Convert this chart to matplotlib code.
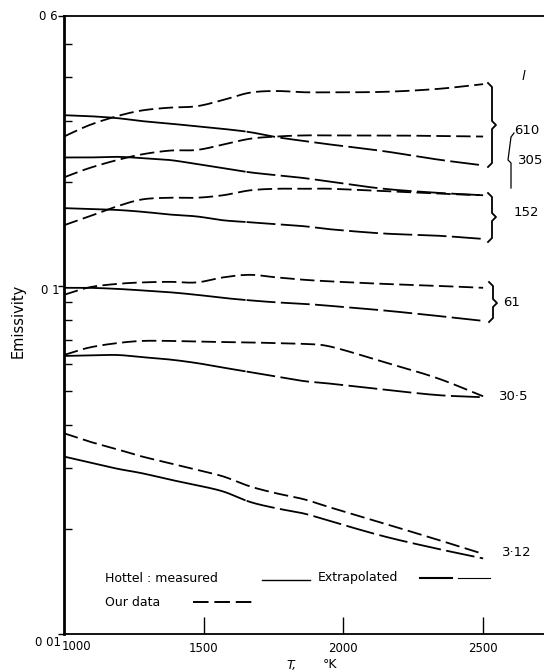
import numpy as np
import matplotlib
matplotlib.use('Agg')
import matplotlib.pyplot as plt
from matplotlib.lines import Line2D

W, H = 544, 671

# temperatures (K) at which the curves were read
T = [1000, 1090, 1190, 1280, 1380, 1475, 1570, 1665, 1760, 1860, 1955, 2145, 2335, 2500]

# path length l, with our data and Hottel's chart for each
ours_610 = [0.270, 0.291, 0.309, 0.321, 0.327, 0.330, 0.344, 0.361, 0.365, 0.362, 0.362, 0.363, 0.370, 0.382]
hottel_610 = [0.311, 0.309, 0.305, 0.299, 0.294, 0.289, 0.284, 0.278, 0.269, 0.262, 0.256, 0.245, 0.232, 0.223]
ours_305 = [0.206, 0.219, 0.231, 0.240, 0.246, 0.247, 0.256, 0.266, 0.270, 0.272, 0.272, 0.272, 0.271, 0.270]
hottel_305 = [0.235, 0.235, 0.236, 0.234, 0.231, 0.225, 0.219, 0.213, 0.209, 0.205, 0.200, 0.191, 0.186, 0.183]
ours_152 = [0.150, 0.159, 0.170, 0.178, 0.180, 0.180, 0.183, 0.189, 0.191, 0.191, 0.191, 0.188, 0.185, 0.183]
hottel_152 = [0.168, 0.167, 0.166, 0.164, 0.161, 0.159, 0.155, 0.153, 0.151, 0.149, 0.146, 0.142, 0.140, 0.137]
ours_61 = [0.0946, 0.0994, 0.1017, 0.1027, 0.1031, 0.1027, 0.1062, 0.1080, 0.1062, 0.1045, 0.1034, 0.1017, 0.1004, 0.0991]
hottel_61 = [0.0991, 0.0991, 0.0984, 0.0974, 0.0962, 0.0946, 0.0927, 0.0912, 0.0900, 0.0891, 0.0879, 0.0853, 0.0823, 0.0796]
ours_30 = [0.0635, 0.0667, 0.0687, 0.0697, 0.0697, 0.0694, 0.0692, 0.0690, 0.0687, 0.0683, 0.0671, 0.0606, 0.0545, 0.0483]
hottel_30 = [0.0631, 0.0633, 0.0635, 0.0626, 0.0616, 0.0602, 0.0584, 0.0567, 0.0550, 0.0534, 0.0525, 0.0505, 0.0487, 0.0480]
ours_3 = [0.0378, 0.0358, 0.0340, 0.0324, 0.0310, 0.0297, 0.0284, 0.0266, 0.0254, 0.0244, 0.0231, 0.0208, 0.0187, 0.0170]
hottel_3 = [0.0324, 0.0312, 0.0299, 0.0290, 0.0278, 0.0268, 0.0257, 0.0240, 0.0230, 0.0222, 0.0211, 0.0191, 0.0176, 0.0165]

MEASURED_MAX = 1650

plt.rcParams['font.family'] = ['DejaVu Sans']


def smooth(x, y, n=25):
    # Catmull-Rom through the read points, in log space
    x = np.asarray(x, float)
    ly = np.log10(np.asarray(y, float))
    px = np.concatenate([[2 * x[0] - x[1]], x, [2 * x[-1] - x[-2]]])
    py = np.concatenate([[2 * ly[0] - ly[1]], ly, [2 * ly[-1] - ly[-2]]])
    xs, ys = [], []
    for i in range(1, len(px) - 2):
        t = np.linspace(0, 1, n, endpoint=False)
        for arr, out in ((px, xs), (py, ys)):
            p0, p1, p2, p3 = arr[i - 1], arr[i], arr[i + 1], arr[i + 2]
            out.append(0.5 * (2 * p1 + (-p0 + p2) * t + (2 * p0 - 5 * p1 + 4 * p2 - p3) * t ** 2
                              + (-p0 + 3 * p1 - 3 * p2 + p3) * t ** 3))
    xs.append([x[-1]])
    ys.append([ly[-1]])
    return np.concatenate(xs), 10 ** np.concatenate(ys)


def px(x, y):
    return x / W, 1 - y / H


fig = plt.figure(figsize=(W / 100, H / 100), dpi=100)
left, bottom, top = 64, 634, 16
ax = fig.add_axes([left / W, 1 - bottom / H, 1 - left / W, (bottom - top) / H])

ax.set_yscale('log')
ax.set_ylim(0.01, 0.6)
ax.set_xlim(1000, 2718)

for ours, hot in [(ours_610, hottel_610), (ours_305, hottel_305), (ours_152, hottel_152),
                  (ours_61, hottel_61), (ours_30, hottel_30), (ours_3, hottel_3)]:
    xs, ys = smooth(T, ours)
    ax.plot(xs, ys, color='black', lw=1.3, dashes=(8, 3))
    xs, ys = smooth(T, hot)
    m = xs <= MEASURED_MAX
    ax.plot(xs[m], ys[m], color='black', lw=1.3, solid_capstyle='butt')
    ax.plot(xs[xs >= MEASURED_MAX], ys[xs >= MEASURED_MAX], color='black', lw=1.3, dashes=(16, 3))

# axes frame and ticks
ax.spines['right'].set_visible(False)
ax.spines['left'].set_linewidth(2)
ax.spines['bottom'].set_linewidth(1.3)
ax.spines['top'].set_linewidth(1.3)
ax.set_xticks([1500, 2000, 2500])
ax.set_xticklabels(['1500', '2000', '2500'])
ax.tick_params(axis='x', which='major', direction='in', length=12, width=1, labelsize=8.5, pad=6)
ax.set_yticks([0.01, 0.1, 0.6])
ax.set_yticklabels(['', '', ''])
ax.set_yticks([0.02, 0.03, 0.04, 0.05, 0.06, 0.07, 0.08, 0.09, 0.2, 0.3, 0.4, 0.5], minor=True)
ax.yaxis.set_minor_formatter(matplotlib.ticker.NullFormatter())
ax.tick_params(axis='y', which='major', direction='out', length=4, width=1)
ax.tick_params(axis='y', which='minor', direction='in', length=6, width=1)

fs = 8.5
fig.text(*px(76, 646), '1000', ha='center', va='center', fontsize=fs)
fig.text(*px(48, 16), '0 6', ha='center', va='center', fontsize=fs)
fig.text(*px(50, 290), '0 1', ha='center', va='center', fontsize=fs)
fig.text(*px(48, 643), '0 01', ha='center', va='center', fontsize=fs)

fig.text(*px(18, 321), 'Emissivity', rotation=90, ha='center', va='center', fontsize=10.5)
fig.text(*px(292, 665), 'T,', style='italic', ha='center', va='center', fontsize=9)
fig.text(*px(330, 665), '°K', ha='center', va='center', fontsize=9)

# legend drawn by hand
fig.text(*px(105, 579), 'Hottel : measured', ha='left', va='center', fontsize=9)
fig.add_artist(Line2D([262 / W, 310 / W], [1 - 580 / H] * 2, color='black', lw=1.0))
fig.text(*px(318, 578), 'Extrapolated', ha='left', va='center', fontsize=9)
fig.add_artist(Line2D([420 / W, 452 / W], [1 - 578 / H] * 2, color='black', lw=1.5))
fig.add_artist(Line2D([458 / W, 490 / W], [1 - 578 / H] * 2, color='black', lw=0.8))
fig.text(*px(105, 602), 'Our data', ha='left', va='center', fontsize=9)
fig.add_artist(Line2D([193 / W, 257 / W], [1 - 602 / H] * 2, color='black', lw=1.4, dashes=(8, 3)))


def brace(x, y0, y1, ym, lw=1.3, w=4):
    xs = [x - w, x, x, x + w, x, x, x - w]
    ys = [y0, y0 + 4, ym - 4, ym, ym + 4, y1 - 4, y1]
    fig.add_artist(Line2D([v / W for v in xs], [1 - v / H for v in ys], color='black', lw=lw))


brace(492, 83, 167, 125)
brace(492, 193, 242, 217)
brace(493, 282, 322, 303)
fig.add_artist(Line2D([514 / W, 511 / W, 508 / W, 511 / W, 511 / W],
                      [1 - 133 / H, 1 - 137 / H, 1 - 160 / H, 1 - 163 / H, 1 - 188 / H],
                      color='black', lw=0.9))

lf = 9.5
fig.text(*px(523, 77), 'l', style='italic', ha='center', va='center', fontsize=lf)
fig.text(*px(527, 130), '610', ha='center', va='center', fontsize=lf)
fig.text(*px(531, 160), '305', ha='center', va='center', fontsize=lf)
fig.text(*px(526, 213), '152', ha='center', va='center', fontsize=lf)
fig.text(*px(512, 302), '61', ha='center', va='center', fontsize=lf)
fig.text(*px(514, 397), '30·5', ha='center', va='center', fontsize=lf)
fig.text(*px(517, 553), '3·12', ha='center', va='center', fontsize=lf)

fig.savefig('out.png', dpi=100)
